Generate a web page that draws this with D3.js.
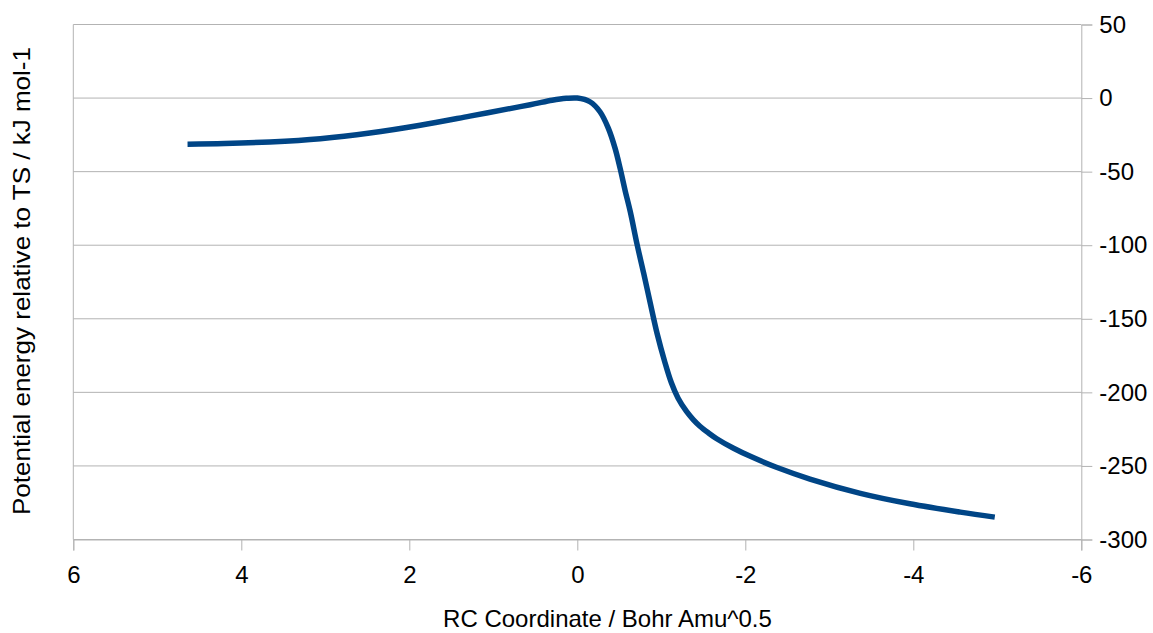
<!DOCTYPE html>
<html><head><meta charset="utf-8">
<script src="https://cdn.jsdelivr.net/npm/d3@7"></script>
<style>
html,body{margin:0;padding:0;background:#fff;}
svg{display:block;font-family:"Liberation Sans",Arial,sans-serif;}
</style></head>
<body>
<svg id="chart" width="1153" height="633"></svg>
<script>
const rcCoord = [4.64, 4.2, 3.66, 3.06, 2.47, 1.87, 1.28, 0.68, 0.5, 0.3, 0.13, 0.0, -0.15, -0.27, -0.37, -0.45, -0.51, -0.57, -0.63, -0.71, -0.79, -0.87, -0.95, -1.04, -1.12, -1.2, -1.3, -1.38, -1.46, -1.56, -1.66, -1.86, -2.06, -2.37, -2.77, -3.37, -3.96, -4.56, -4.97];
const energy  = [-31.3, -30.9, -29.8, -27.6, -23.8, -18.5, -12.3, -5.8, -3.8, -1.5, -0.2, 0, -2.5, -9.3, -20.6, -34.2, -47.8, -63, -77, -99, -119, -139.7, -160, -179, -193.5, -204, -213, -218.5, -223, -227.5, -231.5, -238, -243.5, -250.9, -258.9, -268.6, -275.7, -281.4, -284.8];
const xTicks = [6, 4, 2, 0, -2, -4, -6];
const yTicks = [50, 0, -50, -100, -150, -200, -250, -300];
const xTitle = "RC Coordinate / Bohr Amu^0.5";
const yTitle = "Potential energy relative to TS / kJ mol-1";

const svg = d3.select("#chart");
const L = 73.3, R = 1081.3, T = 24.5, B = 539.5;
const x = d3.scaleLinear().domain([6, -6]).range([L, R]);
const y = d3.scaleLinear().domain([-300, 50]).range([B, T]);
const grid = "#b3b3b3";
const fmt = d => String(d);

// horizontal gridlines
svg.append("g").selectAll("line").data(yTicks).join("line")
  .attr("x1", L).attr("x2", R).attr("y1", d => y(d)).attr("y2", d => y(d))
  .attr("stroke", grid).attr("stroke-width", 1);

// left edge line
svg.append("line").attr("x1", L).attr("x2", L).attr("y1", T).attr("y2", B)
  .attr("stroke", grid);

// x axis (bottom)
const xAxis = d3.axisBottom(x).tickValues(xTicks).tickSize(11).tickPadding(8).tickFormat(fmt);
const gx = svg.append("g").attr("transform", `translate(0,${B})`).call(xAxis);
gx.select(".domain").attr("stroke", grid);
gx.selectAll(".tick line").attr("stroke", grid);
gx.selectAll(".tick text").attr("fill", "#000").attr("font-size", 24)
  .attr("font-family", "Liberation Sans, Arial, sans-serif").attr("y", 26).attr("dy", "0.71em");

// y axis (right)
const yAxis = d3.axisRight(y).tickValues(yTicks).tickSize(11).tickPadding(7).tickFormat(fmt);
const gy = svg.append("g").attr("transform", `translate(${R},0)`).call(yAxis);
gy.select(".domain").attr("stroke", grid);
gy.selectAll(".tick line").attr("stroke", grid);
gy.selectAll(".tick text").attr("fill", "#000").attr("font-size", 24)
  .attr("font-family", "Liberation Sans, Arial, sans-serif").attr("x", 18);

// line
const line = d3.line().x((d, i) => x(rcCoord[i])).y((d, i) => y(energy[i])).curve(d3.curveCatmullRom.alpha(0.5));
svg.append("path").datum(energy).attr("d", line)
  .attr("fill", "none").attr("stroke", "#004586").attr("stroke-width", 5.5);

// titles
svg.append("text").attr("x", (441.7 + 773.3) / 2).attr("y", 627).attr("text-anchor", "middle")
  .attr("font-size", 24).attr("fill", "#000").text(xTitle);
svg.append("text").attr("transform", "translate(30,281) rotate(-90)").attr("text-anchor", "middle")
  .attr("font-size", 24).attr("textLength", 468).attr("lengthAdjust", "spacingAndGlyphs")
  .attr("fill", "#000").text(yTitle);
</script>
</body></html>
